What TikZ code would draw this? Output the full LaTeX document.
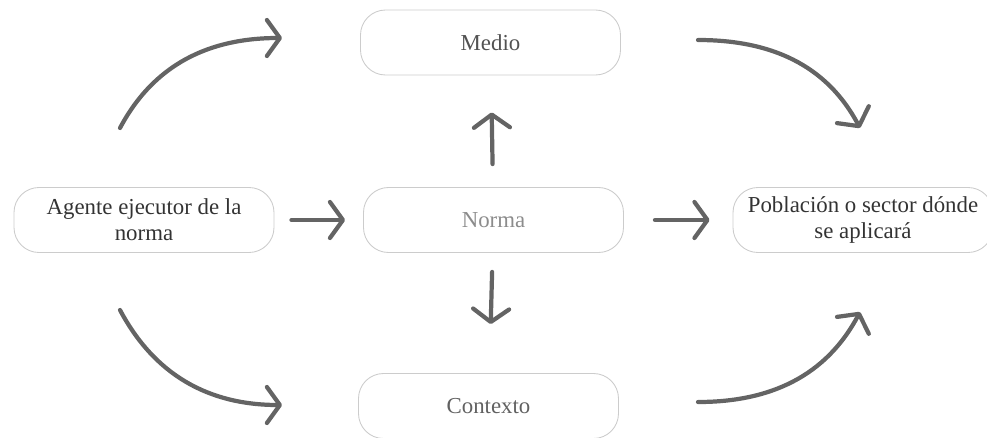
\documentclass[tikz,border=0pt]{standalone}
\usepackage{tikz}
\usetikzlibrary{arrows.meta}
\usepackage{xcolor}
\usepackage{fontspec}
\newfontfamily\serifcaja{Liberation Serif}
\definecolor{caja}{HTML}{CCCCCC}
\definecolor{flechagris}{HTML}{646464}

\begin{document}
\begin{tikzpicture}
  [caja/.style={rectangle,rounded corners=0.5cm,draw=caja,line width=0.5pt,
      minimum width=5.2cm,minimum height=1.3cm,align=center,
      font=\serifcaja\fontsize{13}{15}\selectfont},
   flecha/.style={draw=flechagris,line width=2.4pt,line cap=round,
      -{Straight Barb[length=0.26cm,width=0.72cm,line cap=round,line join=round]}},
  ]
  \useasboundingbox (0,0) rectangle (19.74,-8.74);

  \node[caja,text=black!68] (medio) at (9.81,-0.85) {Medio};
  \node[caja,text=black!80] (agente) at (2.88,-4.4) {Agente ejecutor de la\\norma};
  \node[caja,text=black!45] (norma) at (9.87,-4.4) {Norma};
  \node[caja,text=black!80] (poblacion) at (17.26,-4.4) {Poblaci\'on o sector d\'onde\\se aplicar\'a};
  \node[caja,text=black!62] (contexto) at (9.77,-8.12) {Contexto};

  % puntos de las curvas
  \coordinate (c1) at (2.4,-2.56);
  \coordinate (c2) at (5.64,-0.76);
  \coordinate (c3) at (2.4,-6.2);
  \coordinate (c4) at (5.64,-8.1);
  \coordinate (c5) at (13.96,-0.8);
  \coordinate (c6) at (17.2,-2.56);
  \coordinate (c7) at (13.96,-8.04);
  \coordinate (c8) at (17.2,-6.24);

  \path (agente) edge[flecha,shorten <=0.34cm,shorten >=0.36cm] (norma)
        (norma) edge[flecha,shorten <=0.62cm,shorten >=0.46cm] (poblacion)
        (norma) edge[flecha,shorten <=0.46cm,shorten >=0.74cm] (medio)
        (norma) edge[flecha,shorten <=0.38cm,shorten >=0.98cm] (contexto);

  \path (c1) edge[flecha,out=62,in=180] (c2)
        (c3) edge[flecha,out=-62,in=180] (c4)
        (c5) edge[flecha,out=0,in=118] (c6)
        (c7) edge[flecha,out=0,in=-118] (c8);

\end{tikzpicture}
\end{document}
